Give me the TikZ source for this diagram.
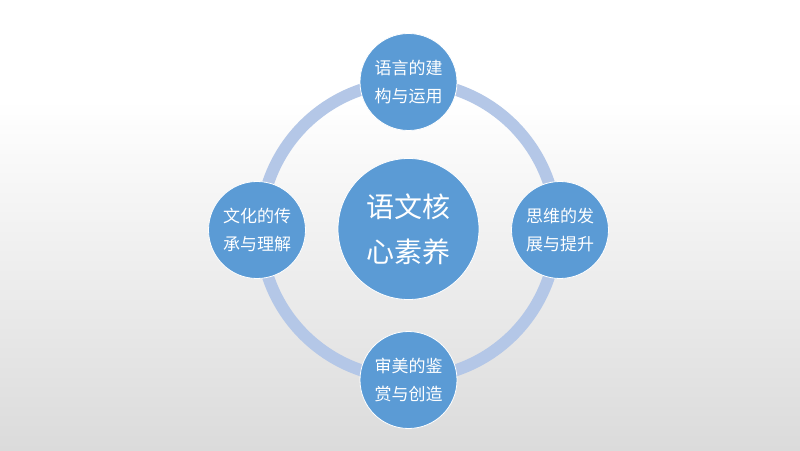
\documentclass[tikz,border=0pt]{standalone}
\usepackage{fontspec}
\setmainfont{Noto Sans CJK SC}
\definecolor{ringblue}{RGB}{180,199,231}
\definecolor{ballblue}{RGB}{91,155,213}
\definecolor{bggray}{RGB}{219,219,219}
\begin{document}
\begin{tikzpicture}[x=1pt,y=1pt,
	ball/.style={circle,fill=ballblue,draw=white,line width=0.8pt,text=white,minimum size=97pt,inner sep=0pt,align=center,font=\fontsize{17}{28}\selectfont}]
		\fill[white] (0,350) rectangle (800,450);
		\shade[top color=white,bottom color=bggray] (0,0) rectangle (800,350);
		\useasboundingbox (0,0) rectangle (800,450);
		\draw[ringblue,line width=12pt] (408.5,220) circle (148);
		\node[ball,minimum size=141pt,font=\fontsize{28}{45}\selectfont] (core) at (408.5,221) {语文核\\心素养};
		\node[ball] (lang) at (408.5,368) {语言的建\\构与运用};
		\node[ball] (think) at (560,220) {思维的发\\展与提升};
		\node[ball] (art) at (408.5,70) {审美的鉴\\赏与创造};
		\node[ball] (culture) at (257,220) {文化的传\\承与理解};
\end{tikzpicture}
\end{document}
